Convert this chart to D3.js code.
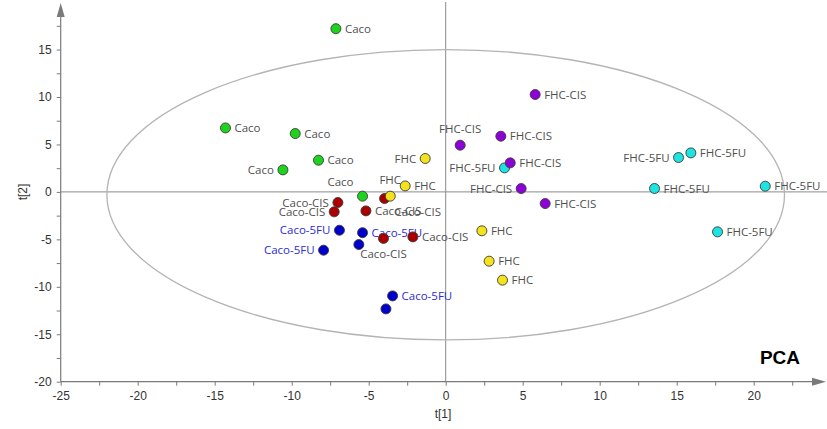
<!DOCTYPE html>
<html>
<head>
<meta charset="utf-8">
<script src="https://cdn.jsdelivr.net/npm/d3@7"></script>
<style>
  html, body { margin: 0; padding: 0; background: #fff; }
  svg { display: block; }
</style>
</head>
<body>
<svg id="chart" width="827" height="429"></svg>
<script>
// ---- Data ----
const groups = ["Caco", "Caco-CIS", "Caco-5FU", "FHC", "FHC-CIS", "FHC-5FU"];

const cacoT1 = [-7.13, -14.3, -9.77, -8.26, -10.57, -5.40];
const cacoT2 = [17.2, 6.74, 6.15, 3.34, 2.32, -0.45];

const cacoCisT1 = [-7.0, -7.24, -5.18, -3.97, -4.04, -2.13];
const cacoCisT2 = [-1.12, -2.1, -2.0, -0.7, -4.9, -4.74];

const caco5fuT1 = [-6.9, -5.4, -5.64, -7.93, -3.45, -3.88];
const caco5fuT2 = [-4.04, -4.3, -5.55, -6.14, -10.96, -12.33];

const fhcT1 = [-1.33, -2.63, -3.6, 2.35, 2.82, 3.69];
const fhcT2 = [3.52, 0.63, -0.45, -4.1, -7.3, -9.3];

const fhcCisT1 = [5.81, 0.94, 3.58, 4.19, 4.9, 6.46];
const fhcCisT2 = [10.26, 4.92, 5.87, 3.06, 0.35, -1.23];

const fhc5fuT1 = [3.82, 15.12, 15.92, 13.56, 20.75, 17.65];
const fhc5fuT2 = [2.53, 3.62, 4.11, 0.36, 0.6, -4.21];

// label side for each point ("" = no label)
const cacoLab    = ["r", "r", "r", "r", "l", "tl"];
const cacoCisLab = ["l", "l", "r", "br", "b", "r"];
const caco5fuLab = ["l", "r", "", "l", "r", ""];
const fhcLab     = ["l", "r", "t", "r", "r", "r"];
const fhcCisLab  = ["r", "t", "r", "r", "l", "r"];
const fhc5fuLab  = ["l", "l", "r", "r", "r", "r"];

const xTicks = d3.range(-25, 22.6, 2.5);
const yTicks = d3.range(-20, 17.6, 2.5);
const xLabel = "t[1]";
const yLabel = "t[2]";
const title = "PCA";

// Hotelling ellipse (data units)
const ellipse = { cx: 0, cy: -0.3, rx: 22, ry: 15.3 };

// ---- Styling ----
const colors = {
  "Caco": "#1ed31e",
  "Caco-CIS": "#aa0000",
  "Caco-5FU": "#0000cc",
  "FHC": "#f3e21c",
  "FHC-CIS": "#8e00d8",
  "FHC-5FU": "#1de3e3"
};
const labelColors = {
  "Caco": "#505050", "Caco-CIS": "#505050", "Caco-5FU": "#2b2bd8",
  "FHC": "#505050", "FHC-CIS": "#505050", "FHC-5FU": "#505050"
};

const seriesData = {
  "Caco": [cacoT1, cacoT2, cacoLab],
  "Caco-CIS": [cacoCisT1, cacoCisT2, cacoCisLab],
  "Caco-5FU": [caco5fuT1, caco5fuT2, caco5fuLab],
  "FHC": [fhcT1, fhcT2, fhcLab],
  "FHC-CIS": [fhcCisT1, fhcCisT2, fhcCisLab],
  "FHC-5FU": [fhc5fuT1, fhc5fuT2, fhc5fuLab]
};
const drawOrder = ["Caco", "Caco-CIS", "Caco-5FU", "FHC", "FHC-5FU", "FHC-CIS"];

const points = [];
drawOrder.forEach(g => {
  const [t1, t2, lab] = seriesData[g];
  t1.forEach((v, i) => points.push({ group: g, t1: v, t2: t2[i], lab: lab[i] }));
});

// ---- Scales ----
const x = d3.scaleLinear().domain([-25, 25]).range([60.7, 830.7]);
const y = d3.scaleLinear().domain([-20, 20]).range([381.7, 2.1]);

const svg = d3.select("#chart");
const axisColor = "#7a7a7a";

// zero lines
svg.append("line")
  .attr("x1", x(-25)).attr("x2", 827)
  .attr("y1", y(0)).attr("y2", y(0))
  .attr("stroke", "#8a8a8a").attr("stroke-width", 1);
svg.append("line")
  .attr("x1", x(0)).attr("x2", x(0))
  .attr("y1", 2).attr("y2", y(-20))
  .attr("stroke", "#8a8a8a").attr("stroke-width", 1);

// ellipse
svg.append("ellipse")
  .attr("cx", x(ellipse.cx)).attr("cy", y(ellipse.cy))
  .attr("rx", x(ellipse.rx) - x(0)).attr("ry", y(0) - y(ellipse.ry))
  .attr("fill", "none").attr("stroke", "#b4b4b4").attr("stroke-width", 1.3);

// axes
const fmt = d => (d % 5 === 0 ? String(d) : "");
const xAxis = d3.axisBottom(x).tickValues(xTicks).tickFormat(fmt).tickSize(4).tickPadding(6).tickSizeOuter(0);
const yAxis = d3.axisLeft(y).tickValues(yTicks).tickFormat(fmt).tickSize(4).tickPadding(5).tickSizeOuter(0);

const gx = svg.append("g").attr("transform", `translate(0,${y(-20)})`).call(xAxis);
const gy = svg.append("g").attr("transform", `translate(${x(-25)},0)`).call(yAxis);
[gx, gy].forEach(g => {
  g.select(".domain").remove();
  g.selectAll(".tick line").attr("stroke", axisColor);
  g.selectAll(".tick text")
    .attr("fill", "#333")
    .style("font-family", "'Liberation Sans', Arial, sans-serif")
    .style("font-size", "12px");
});

// axis lines with arrows
svg.append("line")
  .attr("x1", x(-25)).attr("x2", 814)
  .attr("y1", y(-20)).attr("y2", y(-20))
  .attr("stroke", axisColor).attr("stroke-width", 1.2);
svg.append("line")
  .attr("x1", x(-25)).attr("x2", x(-25))
  .attr("y1", y(-20)).attr("y2", 15)
  .attr("stroke", axisColor).attr("stroke-width", 1.2);
svg.append("path")
  .attr("d", `M${x(-25) - 4},17 L${x(-25)},3 L${x(-25) + 4},17 Z`)
  .attr("fill", axisColor);
svg.append("path")
  .attr("d", `M812,${y(-20) - 4} L826,${y(-20)} L812,${y(-20) + 4} Z`)
  .attr("fill", axisColor);

// axis titles
svg.append("text")
  .attr("x", 443).attr("y", 418)
  .attr("text-anchor", "middle")
  .attr("fill", "#333")
  .style("font-family", "'Liberation Sans', Arial, sans-serif")
  .style("font-size", "12px")
  .text(xLabel);
svg.append("text")
  .attr("transform", "translate(27,192) rotate(-90)")
  .attr("text-anchor", "middle")
  .attr("fill", "#333")
  .style("font-family", "'Liberation Sans', Arial, sans-serif")
  .style("font-size", "12px")
  .text(yLabel);

// PCA title
svg.append("text")
  .attr("x", 800).attr("y", 364)
  .attr("text-anchor", "end")
  .attr("fill", "#000")
  .style("font-family", "'Liberation Sans', Arial, sans-serif")
  .style("font-size", "19px")
  .style("font-weight", "bold")
  .text(title);

// labels
const off = {
  r:  { dx: 9,  dy: 0,   anchor: "start" },
  l:  { dx: -9, dy: 0,   anchor: "end" },
  t:  { dx: 0,  dy: -16, anchor: "middle" },
  b:  { dx: 0,  dy: 16,  anchor: "middle" },
  tl: { dx: -9, dy: -14, anchor: "end" },
  br: { dx: 10, dy: 13,  anchor: "start" }
};
svg.append("g").selectAll("text")
  .data(points.filter(p => p.lab))
  .join("text")
  .attr("x", p => x(p.t1) + off[p.lab].dx)
  .attr("y", p => y(p.t2) + off[p.lab].dy)
  .attr("dy", "0.35em")
  .attr("text-anchor", p => off[p.lab].anchor)
  .attr("fill", p => labelColors[p.group])
  .style("font-family", "'Open Sans', sans-serif")
  .style("font-size", "11.5px")
  .text(p => p.group);

// points
svg.append("g").selectAll("circle")
  .data(points)
  .join("circle")
  .attr("cx", p => x(p.t1))
  .attr("cy", p => y(p.t2))
  .attr("r", 5)
  .attr("fill", p => colors[p.group])
  .attr("stroke", "#3a3a3a")
  .attr("stroke-width", 0.9);
</script>
</body>
</html>
